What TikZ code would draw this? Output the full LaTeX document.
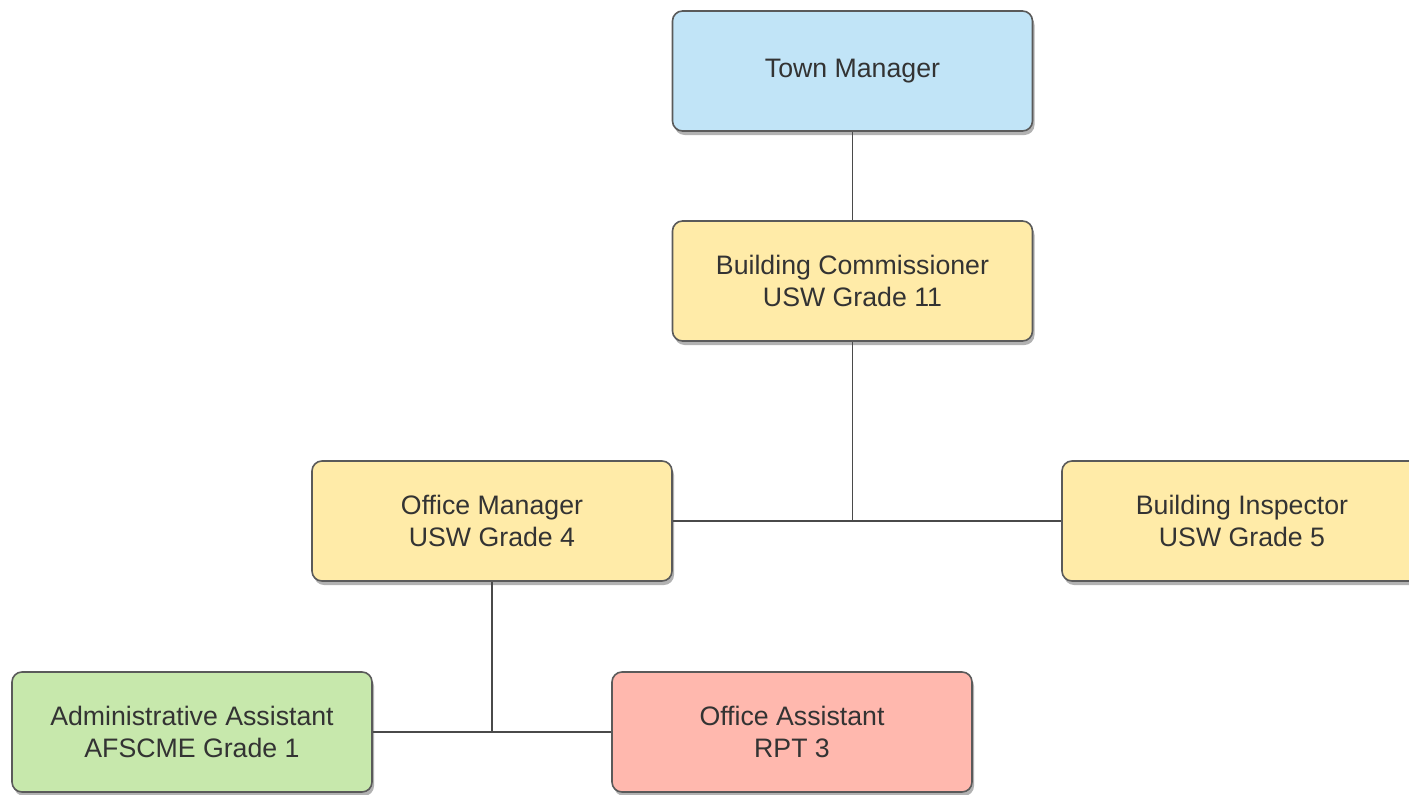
\documentclass[tikz,border=0pt]{standalone}
\usepackage{fontspec}
\setmainfont{Liberation Sans}
\usetikzlibrary{shadows}
\definecolor{bossBlue}{HTML}{C1E4F7}
\definecolor{gradeYellow}{HTML}{FFEBA8}
\definecolor{unionGreen}{HTML}{C7E8AC}
\definecolor{rptRed}{HTML}{FFB8AE}
\definecolor{boxLine}{HTML}{5A5A5A}
\definecolor{wireGray}{HTML}{4A4A4A}
\definecolor{labelGray}{HTML}{333333}

\begin{document}
\begin{tikzpicture}
[x=1pt,y=-1pt,
  boxDecorate/.style={shape=rectangle,rounded corners=10pt,draw=boxLine,line width=1.6pt,%
    minimum width=360pt,minimum height=120pt,align=center,text=labelGray,%
    font=\fontsize{26.7}{32}\selectfont,%
    drop shadow={shadow xshift=2pt,shadow yshift=-4pt,opacity=0.3,fill=black}},%
  lineDecorate/.style={-,line width=1.6pt,draw=wireGray}]
\useasboundingbox (0,0) rectangle (1409,795);
\clip (0,0) rectangle (1409,795);
%% bends of the reporting lines
\coordinate (split) at (852.5,521);
\coordinate (drop) at (492,732);
%% boxes
\foreach \nodename/\x/\y/\shade/\label in {
  town/852.5/71/bossBlue/{Town Manager},
  commish/852.5/281/gradeYellow/{Building Commissioner\\USW Grade 11},
  officemgr/492/521/gradeYellow/{Office Manager\\USW Grade 4},
  inspector/1242/521/gradeYellow/{Building Inspector\\USW Grade 5},
  adminasst/192/732/unionGreen/{Administrative Assistant\\AFSCME Grade 1},
  officeasst/792/732/rptRed/{Office Assistant\\RPT 3}}
{
  \node (\nodename) at (\x,\y) [boxDecorate,fill=\shade] {\label};
}
%% reporting lines
\path
\foreach \startnode/\endnode in {town/commish, commish.south/split, officemgr/inspector,
  officemgr.south/drop, adminasst/officeasst}
{
  (\startnode) edge[lineDecorate] (\endnode)
};
\end{tikzpicture}
\end{document}
